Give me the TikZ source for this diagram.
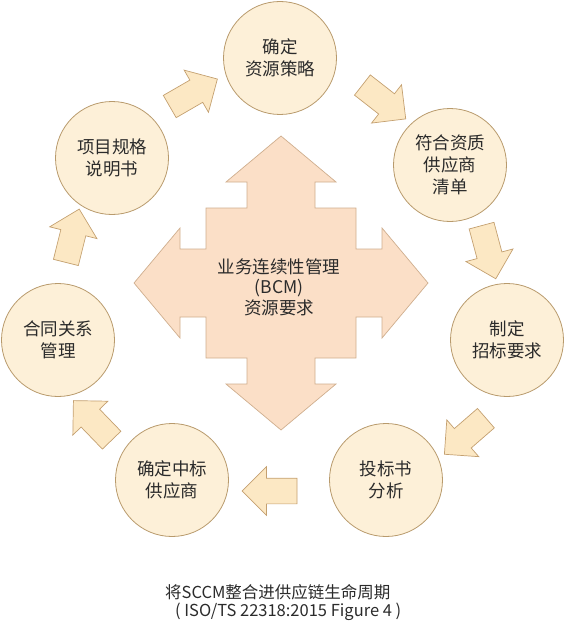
\documentclass[tikz,border=0pt]{standalone}
\usepackage{fontspec}
\setmainfont{Noto Sans CJK SC}
\usepackage{tikz}
\usetikzlibrary{shapes.arrows}
\definecolor{ringfill}{HTML}{FDF0D8}
\definecolor{ringline}{HTML}{B89A6C}
\definecolor{crossfill}{HTML}{FBDFC7}
\definecolor{crossline}{HTML}{CFAE8E}
\definecolor{flowfill}{HTML}{FCE8C4}
\definecolor{flowline}{HTML}{C4A070}
\definecolor{textgray}{HTML}{2B2B2B}

\begin{document}
\begin{tikzpicture}[
    x=1pt, y=1pt,
    stage/.style={circle, draw=ringline, fill=ringfill, line width=0.8pt, minimum size=113pt, inner sep=0pt, align=center, text=textgray, font=\fontsize{17.5}{22}\selectfont},
    flow/.style={single arrow, draw=flowline, fill=flowfill, line width=0.7pt, minimum height=55pt, inner xsep=0pt, inner ysep=12.5pt, single arrow head extend=11.5pt, single arrow tip angle=90},
    bcmcross/.style={draw=crossline, fill=crossfill, line width=0.7pt, line join=miter},
    caption/.style={align=left, text=textgray, font=\fontsize{16.5}{18.5}\selectfont, inner sep=0pt}
]
\useasboundingbox (0,0) rectangle (564,-623);

% centre cross
\begin{scope}[shift={(281,-283)}]
\draw[bcmcross] (0,147) -- (55,101) -- (34,101) -- (34,75) -- (75,75) -- (75,34) -- (101,34) -- (101,55) -- (147,0)
  -- (101,-55) -- (101,-34) -- (75,-34) -- (75,-75) -- (34,-75) -- (34,-101) -- (55,-101) -- (0,-147)
  -- (-55,-101) -- (-34,-101) -- (-34,-75) -- (-75,-75) -- (-75,-34) -- (-101,-34) -- (-101,-55) -- (-147,0)
  -- (-101,55) -- (-101,34) -- (-75,34) -- (-75,75) -- (-34,75) -- (-34,101) -- (-55,101) -- cycle;
\end{scope}
\node[align=center, text=textgray, font=\fontsize{17.5}{20.5}\selectfont] (bcm) at (279,-287) {业务连续性管理\\(BCM)\\资源要求};

% lifecycle stages
\node[stage] (strategy) at (280,-58) {确定\\资源策略};
\node[stage] (suppliers) at (450,-165) {符合资质\\供应商\\清单};
\node[stage] (tender) at (507,-340) {制定\\招标要求};
\node[stage] (bids) at (386,-480) {投标书\\分析};
\node[stage] (award) at (172,-480) {确定中标\\供应商};
\node[stage] (contract) at (58,-340) {合同关系\\管理};
\node[stage] (spec) at (112,-158) {项目规格\\说明书};

% flow arrows between stages
\node[flow, rotate=30] (f1) at (188,-96) {};
\node[flow, rotate=-38] (f2) at (379,-98) {};
\node[flow, rotate=-75] (f3) at (487,-246) {};
\node[flow, rotate=-139] (f4) at (470,-432) {};
\node[flow, rotate=180] (f5) at (276,-491) {};
\node[flow, rotate=134] (f6) at (97,-425) {};
\node[flow, rotate=76] (f7) at (71,-242) {};

\node[caption, anchor=north west] (title) at (165,-584) {将SCCM整合进供应链生命周期\\\hspace{0.6em}( ISO/TS 22318:2015 Figure 4 )};
\end{tikzpicture}
\end{document}
